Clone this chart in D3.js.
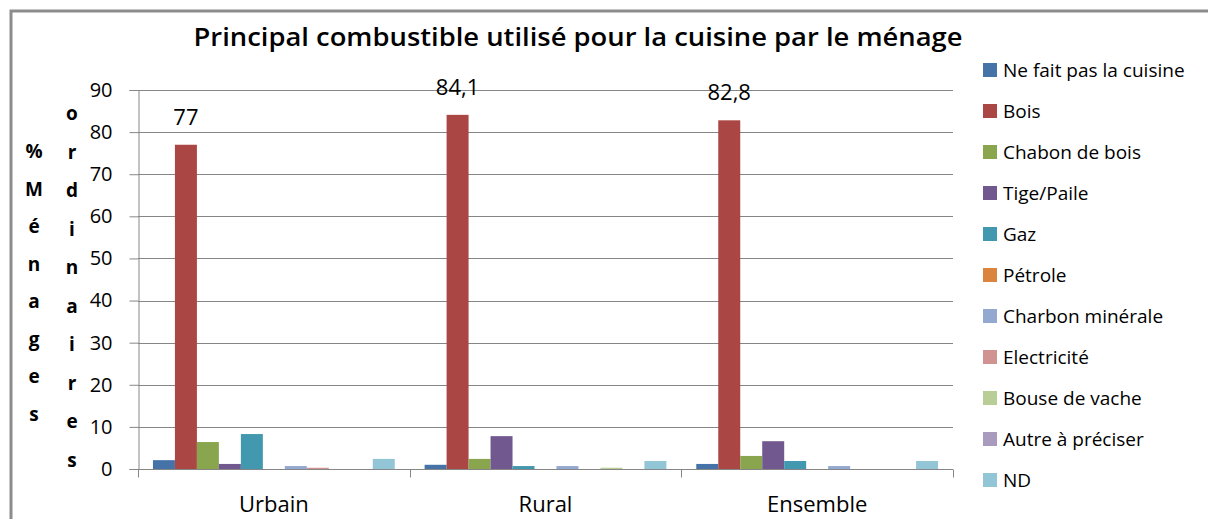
<!DOCTYPE html>
<html><head><meta charset="utf-8">
<script src="https://cdn.jsdelivr.net/npm/d3@7"></script>
<style>body{margin:0;background:#fff}svg{display:block}text{font-family:'Open Sans',sans-serif}</style>
</head><body><svg id="c" width="1208" height="519"></svg>
<script>
const title = "Principal combustible utilisé pour la cuisine par le ménage";
const categories = ["Urbain", "Rural", "Ensemble"];
const series = ["Ne fait pas la cuisine","Bois","Chabon de bois","Tige/Paile","Gaz","Pétrole","Charbon minérale","Electricité","Bouse de vache","Autre à préciser","ND"];
const colors = ["#4572A7","#AA4643","#89A54E","#71588F","#4198AF","#DB843D","#93A9CF","#D19392","#B9CD96","#A99BBD","#92C5D6"];
const urbain   = [2.1, 77,   6.4, 1.2, 8.3, 0, 0.7, 0.3, 0,   0, 2.4];
const rural    = [1.0, 84.1, 2.4, 7.8, 0.7, 0, 0.7, 0,   0.3, 0, 1.9];
const ensemble = [1.2, 82.8, 3.1, 6.6, 1.9, 0, 0.7, 0,   0,   0, 1.9];
const values = [urbain, rural, ensemble];
const labelled = {"Bois": ["77", "84,1", "82,8"]};
const yTicks = [0,10,20,30,40,50,60,70,80,90];
const yLabel1 = ["%","M","é","n","a","g","e","s"];
const yLabel2 = ["o","r","d","i","n","a","i","r","e","s"];

const svg = d3.select("#c");
svg.append("rect").attr("x",11).attr("y",11).attr("width",1230).attr("height",540)
  .attr("fill","none").attr("stroke","#8c8c8c").attr("stroke-width",3);

const L=138, R=953, T=90, B=469;
const x0 = d3.scaleBand().domain(categories).range([L,R]);
const x1 = d3.scaleBand().domain(series).range([0,x0.bandwidth()]).paddingOuter(0.68);
const y = d3.scaleLinear().domain([0,90]).range([B,T]);

// gridlines
svg.append("g").selectAll("line").data(yTicks.slice(1)).join("line")
  .attr("x1",L).attr("x2",R).attr("y1",d=>Math.round(y(d))+0.5).attr("y2",d=>Math.round(y(d))+0.5)
  .attr("stroke","#868686").attr("stroke-width",1);

// y axis
const ya = svg.append("g").attr("transform",`translate(${L+0.5},0)`)
  .call(d3.axisLeft(y).tickValues(yTicks).tickSize(9).tickPadding(17));
ya.select(".domain").attr("stroke","#868686");
ya.selectAll(".tick line").attr("stroke","#868686");
ya.selectAll("text").attr("font-size",20).attr("fill","#000").style("font-family","'Open Sans',sans-serif");

// bars
const groups = svg.append("g").selectAll("g").data(categories).join("g")
  .attr("transform",d=>`translate(${x0(d)},0)`);
groups.selectAll("rect").data((c,i)=>series.map((s,j)=>({s,v:values[i][j],j}))).join("rect")
  .attr("x",d=>x1(d.s)).attr("width",x1.bandwidth())
  .attr("y",d=>y(d.v)).attr("height",d=>B-y(d.v)).attr("fill",d=>colors[d.j]);

// data labels
groups.append("text").attr("x",x1("Bois")+x1.bandwidth()/2)
  .attr("y",(c,i)=>y(values[i][1])-20)
  .attr("text-anchor","middle").attr("font-size",22).attr("fill","#000")
  .text((c,i)=>labelled["Bois"][i]);

// x axis
const xa = svg.append("g").attr("transform",`translate(0,${B+0.5})`);
xa.append("line").attr("x1",L).attr("x2",R).attr("stroke","#868686");
xa.selectAll("line.t").data(categories.map(c=>x0(c)).concat([R])).join("line").attr("class","t")
  .attr("x1",d=>Math.round(d)+0.5).attr("x2",d=>Math.round(d)+0.5).attr("y1",0).attr("y2",8).attr("stroke","#868686");
xa.selectAll("text").data(categories).join("text")
  .attr("x",d=>x0(d)+x0.bandwidth()/2).attr("y",42).attr("text-anchor","middle")
  .attr("font-size",22).attr("fill","#000").text(d=>d);

// title
svg.append("text").attr("x",578).attr("y",46).attr("text-anchor","middle")
  .attr("font-size",26).attr("font-weight","600").attr("textLength",769).attr("lengthAdjust","spacingAndGlyphs")
  .attr("fill","#000").text(title);

// y label (stacked characters)
svg.append("g").selectAll("text").data(yLabel1).join("text")
  .attr("x",34).attr("y",(d,i)=>158+i*37.5).attr("text-anchor","middle")
  .attr("font-size",19).attr("font-weight","bold").text(d=>d);
svg.append("g").selectAll("text").data(yLabel2).join("text")
  .attr("x",72).attr("y",(d,i)=>120+i*38.5).attr("text-anchor","middle")
  .attr("font-size",19).attr("font-weight","bold").text(d=>d);

// legend
const lg = svg.append("g").selectAll("g").data(series).join("g")
  .attr("transform",(d,i)=>`translate(983,${70+i*41})`);
lg.append("rect").attr("x",0).attr("y",-7).attr("width",14).attr("height",14).attr("fill",(d,i)=>colors[i]);
lg.append("text").attr("x",20).attr("y",7).attr("font-size",19).attr("fill","#000").text(d=>d);
</script></body></html>
